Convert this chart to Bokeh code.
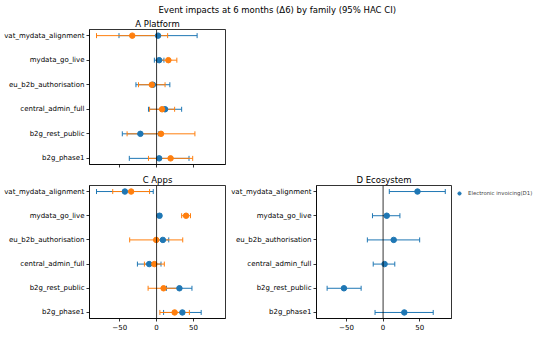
from bokeh.plotting import figure
from bokeh.layouts import column, row
from bokeh.models import (Range1d, FixedTicker, Span, Whisker, TeeHead,
                          ColumnDataSource, Title, Legend, LegendItem)
from bokeh.embed import file_html
from bokeh.resources import INLINE

# categories listed top to bottom
categories = ["vat_mydata_alignment", "mydata_go_live", "eu_b2b_authorisation",
              "central_admin_full", "b2g_rest_public", "b2g_phase1"]
x_ticks = [-50, 0, 50]
x_tick_labels = ["\u221250", "0", "50"]

# Panel A (Platform)
a_blue_est = [2, 3.5, -5, 11.5, -22, 3.5]
a_blue_lo = [-51, -3, -28, -11, -46.5, -37]
a_blue_hi = [55, 10, 18, 34, 2.5, 44]
a_orange_est = [-33, 16, -6.5, 7.5, 6, 19]
a_orange_lo = [-81.5, 5, -24.5, -9.5, -40, -11]
a_orange_hi = [15, 27.5, 11.5, 24.5, 52, 49]

# Panel C (Apps)
c_blue_est = [-43, 4, 8.5, -10, 31, 35]
c_blue_lo = [-81.5, 2, 1, -26, 13.5, 9.5]
c_blue_hi = [-4.5, 6, 16.5, 6, 48, 60.5]
c_orange_est = [-34.5, 40, -0.5, -3, 9.5, 24.5]
c_orange_lo = [-59.5, 34, -36.5, -16.5, -11.5, 4.5]
c_orange_hi = [-9.5, 46, 35.5, 10.5, 30.5, 44.5]

# Panel D (Ecosystem)
d_blue_est = [47, 5, 14.5, 2, -53.5, 29]
d_blue_lo = [8.5, -14.5, -21.5, -13.5, -76.5, -11]
d_blue_hi = [85, 23, 50, 16, -30, 68.5]

legend_label = "Electronic invoicing(D1)"
main_title = "Event impacts at 6 months (\u03946) by family (95% HAC CI)"

BLUE = "#1f77b4"
ORANGE = "#ff7f0e"
FONT = "DejaVu Sans"
ypos = [len(categories) - 1 - i for i in range(len(categories))]


def style_title(t, standoff):
    t.text_font = FONT
    t.text_font_size = "8.5px"
    t.text_font_style = "normal"
    t.text_color = "black"
    t.standoff = standoff


def make_fig(width, height, mb_left, mb_right, mb_top, mb_bottom, show_xlabels=True):
    p = figure(width=width, height=height, output_backend="svg", toolbar_location=None,
               x_range=Range1d(-91, 93.5), y_range=Range1d(-0.25, 5.25),
               min_border_left=mb_left, min_border_right=mb_right,
               min_border_top=mb_top, min_border_bottom=mb_bottom)
    p.xgrid.visible = False
    p.ygrid.visible = False
    p.outline_line_color = "black"
    p.outline_line_width = 0.8
    p.background_fill_color = "white"
    p.border_fill_color = "white"
    for ax in (p.xaxis[0], p.yaxis[0]):
        ax.axis_line_color = "black"
        ax.axis_line_width = 0.8
        ax.major_tick_line_color = "black"
        ax.major_tick_line_width = 0.8
        ax.major_tick_in = 0
        ax.major_tick_out = 3
        ax.minor_tick_line_color = None
        ax.major_label_standoff = 2
        ax.major_label_text_font = FONT
        ax.major_label_text_color = "black"
    p.xaxis.ticker = FixedTicker(ticks=x_ticks)
    if show_xlabels:
        p.xaxis.major_label_overrides = {t: l for t, l in zip(x_ticks, x_tick_labels)}
    else:
        p.xaxis.major_label_overrides = {t: "" for t in x_ticks}
        p.xaxis.major_label_standoff = 0
    p.xaxis.major_label_text_font_size = "7px"
    p.yaxis.ticker = FixedTicker(ticks=ypos)
    p.yaxis.major_label_overrides = {y: c for y, c in zip(ypos, categories)}
    p.yaxis.major_label_text_font_size = "7px"
    p.add_layout(Span(location=0, dimension="height", line_color="black", line_width=0.8))
    return p


def add_series(p, est, lo, hi, color):
    src = ColumnDataSource(dict(y=ypos, est=est, lo=lo, hi=hi))
    w = Whisker(source=src, base="y", lower="lo", upper="hi", dimension="width",
                line_color=color, line_width=1,
                lower_head=TeeHead(size=5, line_color=color, line_width=1),
                upper_head=TeeHead(size=5, line_color=color, line_width=1))
    p.add_layout(w)
    return p.scatter("est", "y", source=src, size=5.5, color=color, marker="circle")


# Top row: panel A (wide canvas, blank right side) with main title
pa = make_fig(534, 170, 89, 309, 29, 6, show_xlabels=False)
pa.title.text = main_title
pa.title.align = "left"
pa.title.offset = 69
style_title(pa.title, 2)
ta = Title(text="A Platform", align="center")
style_title(ta, 2)
pa.add_layout(ta, "above")
add_series(pa, a_blue_est, a_blue_lo, a_blue_hi, BLUE)
add_series(pa, a_orange_est, a_orange_lo, a_orange_hi, ORANGE)

pc = make_fig(228, 162, 89, 3, 15, 14)
pc.title.text = "C Apps"
pc.title.align = "center"
style_title(pc.title, 2)
add_series(pc, c_blue_est, c_blue_lo, c_blue_hi, BLUE)
add_series(pc, c_orange_est, c_orange_lo, c_orange_hi, ORANGE)

pd_ = make_fig(226, 162, 88, 3, 15, 14)
pd_.title.text = "D Ecosystem"
pd_.title.align = "center"
style_title(pd_.title, 2)
add_series(pd_, d_blue_est, d_blue_lo, d_blue_hi, BLUE)

# legend panel to the right of D (its frame is aligned with D's frame)
pl = figure(width=80, height=162, output_backend="svg", toolbar_location=None,
            x_axis_type=None, y_axis_type=None,
            x_range=Range1d(0, 1), y_range=Range1d(0, 1),
            min_border_left=0, min_border_right=0, min_border_top=15, min_border_bottom=14)
pl.outline_line_color = None
pl.xgrid.visible = False
pl.ygrid.visible = False
pl.background_fill_color = "white"
pl.border_fill_color = "white"
# legend proxy: one marker placed outside the visible range, used only for the legend swatch
rl = pl.scatter(x=[-5], y=[-5], size=5.5, color=BLUE, marker="circle")
leg = Legend(items=[LegendItem(label=legend_label, renderers=[rl])],
             location=(0, 121), padding=0, margin=0, spacing=0,
             glyph_width=10, glyph_height=8, label_standoff=4,
             label_text_font=FONT, label_text_font_size="5.4px",
             label_height=8, border_line_color=None, background_fill_alpha=0)
pl.add_layout(leg)

layout = column(pa, row(pc, pd_, pl))
open("out.html", "w").write(file_html(layout, INLINE))
